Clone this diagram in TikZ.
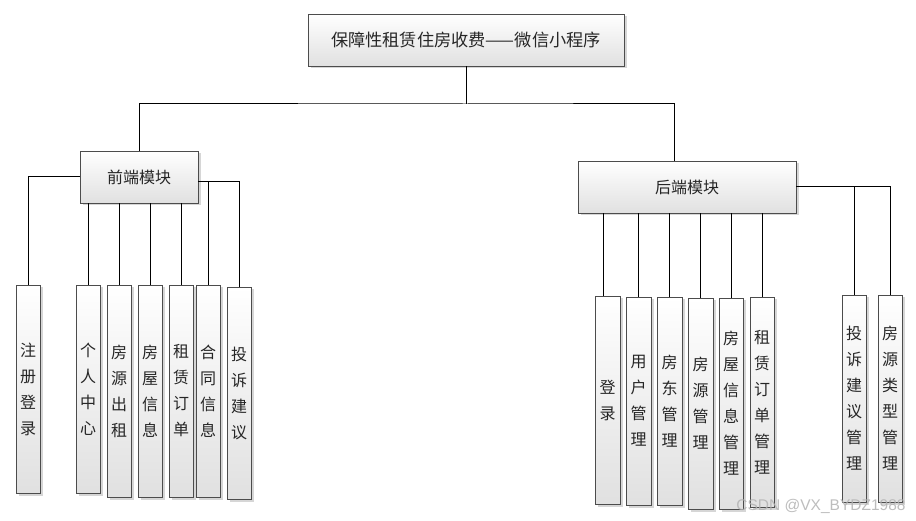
\documentclass[tikz,border=0pt]{standalone}
\usepackage{fontspec}
\newfontfamily\cjk{Noto Sans CJK SC}
\setsansfont{Liberation Sans}
\usetikzlibrary{shadows}
\tikzset{
  bx/.style={draw=black!70, line width=0.9pt, top color=white, bottom color=black!12,
    drop shadow={shadow xshift=2.5pt, shadow yshift=-2.5pt, fill=black!45, opacity=0.35},
    inner sep=0pt, align=center, text=black!85},
  vtext/.style={font=\cjk\fontsize{16}{26}\selectfont},
  htext/.style={font=\cjk\fontsize{16}{20}\selectfont},
  ttext/.style={font=\cjk\fontsize{17.2}{22}\selectfont},
  ln/.style={line width=1pt, black}
}
\newcommand\mybox[7]{\node[bx,#7, minimum width={(#4-#2)*1pt}, minimum height={(#5-#3)*1pt}] (#1) at ({(#2+#4)/2},{(#3+#5)/2}) {#6};}
\begin{document}
\begin{tikzpicture}[x=1pt,y=-1pt]
\useasboundingbox[fill=white] (0,0) rectangle (916,521);
% top
\mybox{top}{308}{14}{624}{66}{保障性租赁住房收费——微信小程序}{ttext}
% modules
\mybox{front}{80}{151}{198}{203}{前端模块}{htext}
\mybox{back}{578}{161}{796}{213}{后端模块}{htext}
% front leaves
\mybox{reg}{16}{285}{40}{493}{注\\册\\登\\录}{vtext}
\mybox{per}{76}{285}{100}{493}{个\\人\\中\\心}{vtext}
\mybox{fyc}{107}{285}{131}{497}{房\\源\\出\\租}{vtext}
\mybox{fwx}{138}{285}{162}{497}{房\\屋\\信\\息}{vtext}
\mybox{zld}{169}{285}{193}{497}{租\\赁\\订\\单}{vtext}
\mybox{htx}{196}{285}{220}{497}{合\\同\\信\\息}{vtext}
\mybox{tsj}{227}{287}{251}{499}{投\\诉\\建\\议}{vtext}
% back leaves
\mybox{dl}{595}{296}{620}{504}{登\\录}{vtext}
\mybox{yh}{626}{297}{651}{505}{用\\户\\管\\理}{vtext}
\mybox{fd}{657}{297}{682}{505}{房\\东\\管\\理}{vtext}
\mybox{fy}{688}{298}{713}{509}{房\\源\\管\\理}{vtext}
\mybox{fw}{719}{298}{743}{509}{房\\屋\\信\\息\\管\\理}{vtext}
\mybox{zl}{750}{297}{774}{507}{租\\赁\\订\\单\\管\\理}{vtext}
\mybox{ts}{842}{295}{866}{502}{投\\诉\\建\\议\\管\\理}{vtext}
\mybox{lx}{878}{295}{902}{502}{房\\源\\类\\型\\管\\理}{vtext}
% connectors
\coordinate (j) at (466,104);
\draw[ln] (top.south) -- (j);
\draw[ln] (front.north) |- (j) -- (674,104) coordinate (jb) -- (jb |- back.north);
\draw[ln] (front.west) -| (reg.north);
\coordinate (fr) at (198,182);
\draw[ln] (fr) -| (tsj.north);
\draw[ln] (htx.north) -- (htx.north |- fr);
\foreach \n in {per,fyc,fwx,zld}{\draw[ln] (\n.north) -- (\n.north |- front.south);}
\draw[ln] (back.east) -| (lx.north);
\draw[ln] (ts.north) -- (ts.north |- back.east);
\draw[ln] (dl.north) ++(-4,0) coordinate (dlc) -- (dlc |- back.south);
\foreach \n in {yh,fd,fy,fw,zl}{\draw[ln] (\n.north) -- (\n.north |- back.south);}
% watermark
\node[font=\sffamily\fontsize{15.5}{16}\selectfont, text=black!30, opacity=0.85] (wm) at (821,506) {CSDN @VX\_BYDZ1988};
\end{tikzpicture}
\end{document}
